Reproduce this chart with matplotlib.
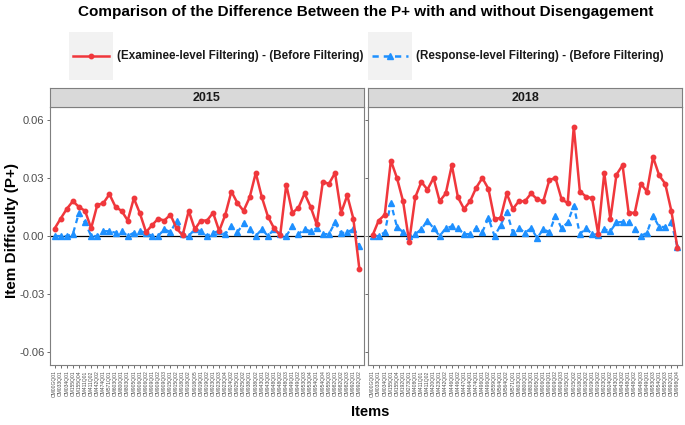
import matplotlib
matplotlib.use("Agg")
import matplotlib.pyplot as plt
from matplotlib.lines import Line2D
from matplotlib.patches import Rectangle

plt.rcParams['font.family'] = ['Liberation Sans', 'DejaVu Sans']

# item labels (alphabetical, as in the reference)
items_2015 = ["CM00GQ01", "CM033Q01", "CM034Q01", "CM155Q01", "CM155Q04", "CM411Q01",
              "CM411Q02", "CM442Q02", "CM474Q01", "CM571Q01", "CM603Q01", "CM800Q01",
              "CM803Q01", "CM905Q01", "CM906Q01", "CM906Q02", "CM909Q01", "CM909Q02",
              "CM909Q03", "CM915Q01", "CM915Q02", "CM918Q01", "CM918Q02", "CM918Q05",
              "CM919Q01", "CM919Q02", "CM923Q01", "CM923Q03", "CM923Q04", "CM924Q02",
              "CM925Q01", "CM925Q02", "CM938Q01", "CM938Q02", "CM943Q01", "CM943Q02",
              "CM948Q01", "CM948Q02", "CM948Q03", "CM949Q01", "CM949Q02", "CM953Q03",
              "CM953Q04", "CM954Q01", "CM954Q04", "CM955Q03", "CM982Q01", "CM982Q02",
              "CM982Q03", "CM992Q01", "CM992Q02"]
items_2018 = ["CM00GQ01", "CM033Q01", "CM034Q01", "CM155Q01", "CM155Q04", "CM192Q01",
              "CM273Q01", "CM408Q01", "CM411Q01", "CM411Q02", "CM420Q01", "CM423Q01",
              "CM442Q02", "CM446Q01", "CM446Q02", "CM447Q01", "CM464Q01", "CM474Q01",
              "CM496Q01", "CM496Q02", "CM559Q01", "CM564Q01", "CM564Q02", "CM571Q01",
              "CM603Q01", "CM800Q01", "CM803Q01", "CM905Q01", "CM906Q01", "CM909Q01",
              "CM909Q02", "CM909Q03", "CM915Q01", "CM915Q02", "CM918Q01", "CM918Q02",
              "CM919Q01", "CM919Q02", "CM923Q01", "CM924Q02", "CM943Q01", "CM943Q02",
              "CM948Q01", "CM948Q02", "CM948Q03", "CM949Q01", "CM953Q03", "CM954Q01",
              "CM955Q03", "CM992Q01", "CM998Q04"]

# (Examinee-level Filtering) - (Before Filtering)
exam_2015 = [0.0038, 0.009, 0.014, 0.018, 0.015, 0.013, 0.004, 0.016, 0.017, 0.0216,
             0.015, 0.013, 0.008, 0.0195, 0.0117, 0.002, 0.0056, 0.009, 0.008, 0.011,
             0.004, 0.0003, 0.013, 0.0035, 0.008, 0.008, 0.012, 0.0026, 0.011, 0.023,
             0.017, 0.013, 0.020, 0.0326, 0.020, 0.010, 0.004, 0.0003, 0.0265, 0.012,
             0.0146, 0.022, 0.015, 0.006, 0.028, 0.027, 0.0326, 0.012, 0.021, 0.009,
             -0.0172]
exam_2018 = [0.0003, 0.008, 0.011, 0.039, 0.030, 0.018, -0.003, 0.020, 0.028, 0.024,
             0.030, 0.018, 0.022, 0.0366, 0.020, 0.014, 0.018, 0.025, 0.030, 0.0244,
             0.0087, 0.0094, 0.022, 0.014, 0.018, 0.018, 0.022, 0.019, 0.018, 0.029,
             0.030, 0.019, 0.017, 0.0565, 0.023, 0.0204, 0.0195, 0.0012, 0.0326, 0.0087,
             0.0317, 0.0366, 0.012, 0.012, 0.027, 0.023, 0.0408, 0.0314, 0.027, 0.013,
             -0.0060]

# (Response-level Filtering) - (Before Filtering)
resp_2015 = [0.0, 0.0, 0.0, 0.001, 0.012, 0.007, 0.0, 0.0, 0.0025, 0.0025,
             0.0017, 0.0025, 0.0, 0.0017, 0.0025, 0.0017, 0.0, 0.0, 0.0035, 0.002,
             0.0077, 0.001, 0.0, 0.0035, 0.0025, 0.0, 0.0017, 0.0025, 0.001, 0.005,
             0.002, 0.0065, 0.0035, 0.0, 0.0035, 0.0, 0.0035, 0.001, 0.0, 0.005,
             0.001, 0.0035, 0.0025, 0.004, 0.001, 0.001, 0.007, 0.0015, 0.002, 0.0035,
             -0.005]
resp_2018 = [0.0, 0.0, 0.002, 0.017, 0.0047, 0.002, 0.0, 0.001, 0.0035, 0.008,
             0.004, 0.0, 0.004, 0.005, 0.004, 0.001, 0.001, 0.004, 0.002, 0.0094,
             0.0, 0.0055, 0.0125, 0.002, 0.004, 0.0017, 0.004, -0.001, 0.0035, 0.002,
             0.0105, 0.004, 0.007, 0.0157, 0.001, 0.004, 0.001, 0.0007, 0.0035, 0.0025,
             0.007, 0.0073, 0.007, 0.0038, 0.0, 0.0017, 0.0105, 0.0047, 0.0047, 0.007,
             -0.0058]

years = ["2015", "2018"]
panels = [(items_2015, exam_2015, resp_2015), (items_2018, exam_2018, resp_2018)]

red = "#F0373C"
blue = "#1E90FF"
W, H = 685, 425

fig = plt.figure(figsize=(6.85, 4.25), dpi=100)

lefts = [50, 368]
pw = 314
bottom, top = 365, 107
for k, (items, exam, resp) in enumerate(panels):
    x0 = lefts[k]
    ax = fig.add_axes([x0 / W, 1 - bottom / H, pw / W, (bottom - top) / H])
    xs = list(range(len(items)))
    ax.axhline(0, color="black", lw=0.9, zorder=1)
    ax.plot(xs, exam, color=red, lw=1.8, marker="o", ms=3.2, zorder=3)
    ax.plot(xs, resp, color=blue, lw=1.6, ls=(0, (2.5, 2)), marker="^", ms=4.5,
            zorder=2)
    ax.set_xlim(-0.75, len(items) - 0.25)
    ax.set_ylim(-0.0667, 0.0667)
    ax.set_xticks(xs)
    ax.set_xticklabels(items, rotation=90, fontsize=3.6, color="#4d4d4d")
    ax.set_yticks([-0.06, -0.03, 0.0, 0.03, 0.06])
    if k == 0:
        ax.set_yticklabels(["-0.06", "-0.03", "0.00", "0.03", "0.06"],
                           fontsize=8, color="#4d4d4d")
    else:
        ax.set_yticklabels([])
    ax.tick_params(axis="both", length=2.5, width=0.5, color="#333333", pad=1.5)
    for s in ax.spines.values():
        s.set_color("#7f7f7f")
        s.set_linewidth(0.8)
    # facet strip
    sax = fig.add_axes([x0 / W, 1 - top / H, pw / W, 19 / H])
    sax.set_xticks([])
    sax.set_yticks([])
    sax.set_facecolor("#d9d9d9")
    for s in sax.spines.values():
        s.set_color("#7f7f7f")
        s.set_linewidth(0.8)
    sax.text(0.5, 0.45, years[k], ha="center", va="center", fontsize=9,
             fontweight="bold", color="#1a1a1a", transform=sax.transAxes)

fig.text(366 / W, 1 - 12 / H, "Comparison of the Difference Between the P+ with and without Disengagement",
         ha="center", va="center", fontsize=11, fontweight="bold")
fig.text(12 / W, 1 - 230 / H, "Item Difficulty (P+)", rotation=90, ha="center",
         va="center", fontsize=11, fontweight="bold")
fig.text(370 / W, 1 - 412 / H, "Items", ha="center", va="center", fontsize=10.5,
         fontweight="bold")

# legend
legend_items = [
    (69, red, "-", "o", 3.2, "(Examinee-level Filtering) - (Before Filtering)"),
    (368, blue, (0, (2.5, 2)), "^", 4.5, "(Response-level Filtering) - (Before Filtering)"),
]
for kx, col, ls, mk, ms, lab in legend_items:
    fig.patches.append(Rectangle((kx / W, 1 - 80 / H), 44 / W, 48 / H,
                                 transform=fig.transFigure, facecolor="#f2f2f2",
                                 edgecolor="none"))
    fig.lines.append(Line2D([(kx + 4) / W, (kx + 40) / W], [1 - 56 / H, 1 - 56 / H],
                            transform=fig.transFigure, color=col, lw=1.8, ls=ls))
    fig.lines.append(Line2D([(kx + 22) / W], [1 - 56 / H], transform=fig.transFigure,
                            color=col, marker=mk, ms=ms, ls="none"))
    fig.text((kx + 48) / W, 1 - 56 / H, lab, ha="left", va="center", fontsize=8.4,
             fontweight="bold", color="#1a1a1a")

fig.savefig("out.png", dpi=100)
